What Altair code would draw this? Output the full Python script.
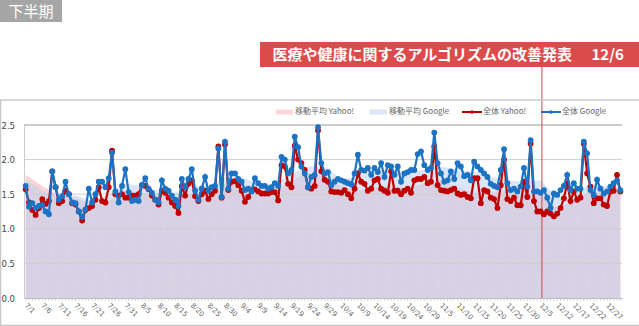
import altair as alt
import pandas as pd

# ---- categories (dates present in the data; a few days are missing) ----
jul = [f"7/{d}" for d in range(1, 32)]
aug = [f"8/{d}" for d in range(1, 32)]
sep = [f"9/{d}" for d in range(1, 31)]
octo = [f"10/{d}" for d in range(1, 32)]
nov = [f"11/{d}" for d in [1, 2] + list(range(5, 31))]
dec = [f"12/{d}" for d in [1, 2, 3, 4, 5, 6, 7, 10, 11] + list(range(12, 32))]
dates = jul + aug + sep + octo + nov + dec

tick_labels = ["7/1", "7/6", "7/11", "7/16", "7/21", "7/26", "7/31", "8/5", "8/10",
               "8/15", "8/20", "8/25", "8/30", "9/4", "9/9", "9/14", "9/19", "9/24",
               "9/29", "10/4", "10/9", "10/14", "10/19", "10/24", "10/29", "11/5",
               "11/10", "11/15", "11/20", "11/25", "11/30", "12/5", "12/12", "12/17",
               "12/22", "12/27"]

y_ticks = [0, 0.5, 1, 1.5, 2, 2.5]

yahoo = [1.57, 1.38, 1.27, 1.20, 1.30, 1.43, 1.36, 1.40, 1.83, 1.60,
         1.37, 1.40, 1.55, 1.50, 1.37, 1.35, 1.25, 1.12, 1.27, 1.30,
         1.33, 1.42, 1.60, 1.40, 1.38, 1.60, 2.13, 1.50, 1.48, 1.50,
         1.45, 1.45, 1.48, 1.48, 1.50, 1.63, 1.62, 1.57, 1.48, 1.42,
         1.35, 1.55, 1.52, 1.45, 1.38, 1.33, 1.23, 1.62, 1.48, 1.65,
         1.70, 1.47, 1.40, 1.50, 1.55, 1.43, 1.50, 1.55, 2.19, 1.45,
         2.22, 1.56, 1.68, 1.69, 1.63, 1.55, 1.39, 1.46, 1.56, 1.57,
         1.54, 1.51, 1.51, 1.51, 1.53, 1.53, 1.41, 1.92, 1.90, 1.65,
         1.60, 2.20, 2.00, 1.95, 1.85, 1.60, 1.58, 1.62, 2.42, 1.83,
         1.71, 1.68, 1.54, 1.53, 1.53, 1.52, 1.56, 1.50, 1.44, 1.58,
         1.80, 1.68, 1.65, 1.55, 1.58, 1.70, 1.72, 1.58, 1.55, 1.52,
         1.83, 1.55, 1.55, 1.50, 1.55, 1.58, 1.52, 1.70, 1.72, 1.72,
         1.75, 1.66, 1.68, 2.19, 1.63, 1.56, 1.55, 1.54, 1.56, 1.58,
         1.51, 1.49, 1.50, 1.46, 1.44, 1.73, 1.73, 1.37, 1.56, 1.54,
         1.45, 1.43, 1.30, 1.63, 2.00, 1.43, 1.40, 1.45, 1.34, 1.34,
         1.68, 1.46, 2.23, 1.40, 1.25, 1.25, 1.21, 1.25, 1.22, 1.18,
         1.22, 1.30, 1.44, 1.66, 1.40, 1.54, 1.42, 1.45, 2.23, 1.80,
         1.61, 1.37, 1.44, 1.44, 1.35, 1.33, 1.54, 1.55, 1.78, 1.54]

google = [1.62, 1.32, 1.37, 1.30, 1.33, 1.34, 1.25, 1.21, 1.83, 1.60,
          1.42, 1.47, 1.68, 1.50, 1.38, 1.37, 1.25, 1.17, 1.28, 1.58,
          1.38, 1.50, 1.68, 1.68, 1.60, 1.73, 2.10, 1.54, 1.38, 1.62,
          1.86, 1.53, 1.40, 1.42, 1.40, 1.63, 1.73, 1.58, 1.52, 1.42,
          1.38, 1.70, 1.58, 1.55, 1.48, 1.42, 1.33, 1.72, 1.60, 1.72,
          1.86, 1.55, 1.42, 1.58, 1.75, 1.55, 1.60, 1.62, 2.16, 1.46,
          2.26, 1.58, 1.80, 1.80, 1.72, 1.68, 1.56, 1.58, 1.54, 1.73,
          1.66, 1.62, 1.62, 1.58, 1.60, 1.66, 1.62, 2.04, 2.00, 1.80,
          1.85, 2.33, 2.18, 1.90, 1.80, 1.60, 1.75, 1.78, 2.47, 1.95,
          1.80, 1.82, 1.63, 1.68, 1.72, 1.70, 1.68, 1.66, 1.64, 1.80,
          2.07, 1.85, 1.84, 1.88, 1.78, 1.88, 1.82, 1.95, 1.75, 1.92,
          1.90, 1.78, 1.90, 1.68, 1.80, 1.82, 1.85, 1.85, 2.08, 2.12,
          1.92, 1.85, 1.88, 2.39, 1.95, 1.80, 1.68, 1.70, 1.83, 1.72,
          1.95, 1.90, 1.76, 1.78, 1.70, 1.97, 1.90, 1.85, 1.80, 1.75,
          1.65, 1.62, 1.60, 1.85, 2.15, 1.66, 1.56, 1.58, 1.54, 1.61,
          1.88, 1.61, 2.28, 1.54, 1.54, 1.52, 1.56, 1.45, 1.30, 1.51,
          1.49, 1.56, 1.62, 1.78, 1.56, 1.66, 1.58, 1.58, 2.26, 2.09,
          1.56, 1.49, 1.71, 1.58, 1.51, 1.54, 1.61, 1.66, 1.70, 1.56]

# moving averages, read at the labelled dates and at the last date
ma_dates = tick_labels + ["12/31"]
ma_yahoo = [1.78, 1.62, 1.48, 1.45, 1.35, 1.40, 1.55, 1.52, 1.50, 1.45,
            1.50, 1.52, 1.65, 1.65, 1.52, 1.52, 1.70, 1.80, 1.75, 1.62,
            1.55, 1.60, 1.62, 1.60, 1.65, 1.70, 1.60, 1.52, 1.52, 1.55,
            1.50, 1.50, 1.30, 1.40, 1.55, 1.50, 1.52]
ma_google = [1.72, 1.55, 1.45, 1.48, 1.40, 1.50, 1.65, 1.62, 1.55, 1.52,
             1.62, 1.62, 1.75, 1.75, 1.65, 1.65, 1.80, 1.90, 1.90, 1.72,
             1.75, 1.85, 1.85, 1.82, 1.85, 1.90, 1.85, 1.82, 1.75, 1.70,
             1.68, 1.70, 1.45, 1.50, 1.65, 1.62, 1.62]

RED = "#c00000"
BLUE = "#1c73c4"
FONT = "Noto Sans CJK JP"

df = pd.DataFrame({"date": dates, "idx": range(len(dates)), "yahoo": yahoo, "google": google})
dma = pd.DataFrame({"date": ma_dates, "idx": [dates.index(d) for d in ma_dates],
                    "ma_yahoo": ma_yahoo, "ma_google": ma_google})

xscale = alt.Scale(domain=dates, padding=0)
yscale = alt.Scale(domain=[0, 2.5], nice=False, zero=True)

xaxis = alt.Axis(values=tick_labels, labelAngle=45, labelAlign="left",
                 labelBaseline="middle", labelFontSize=7, labelColor="#666666",
                 labelFont="DejaVu Sans", labelPadding=6, ticks=False,
                 domainColor="#bdbdbd", title=None, grid=False,
                 labelOverlap=False)
yaxis = alt.Axis(values=y_ticks, format=".1f", title=None,
                 ticks=False, labelAlign="left", labelPadding=23,
                 labelFontSize=8.5, labelColor="#444444", labelFont="DejaVu Sans",
                 labelOverlap=False, grid=False, domainColor="#cccccc")


def X(field="date:O"):
    return alt.X(field, scale=xscale, sort=dates, axis=xaxis)


def Y(field):
    return alt.Y(field, scale=yscale, axis=yaxis)


base = alt.Chart(df)

area_y = alt.Chart(dma).mark_area(color="#f9d3d6", opacity=1).encode(
    x=X(), y=Y("ma_yahoo:Q"), order=alt.Order("idx:Q"))

area_g = alt.Chart(dma).mark_area(color="#bccfee", opacity=0.55).encode(
    x=X(), y=Y("ma_google:Q"), order=alt.Order("idx:Q"))

grid_rules = alt.Chart(pd.DataFrame({"v": y_ticks[1:5]})).mark_rule(color="#cfcfcf", strokeWidth=1).encode(
    y=Y("v:Q"))

top_grid = alt.Chart(pd.DataFrame({"v": [2.5]})).mark_rule(color="#bdbdbd", strokeWidth=1.5).encode(
    y=Y("v:Q"))

xticks = base.mark_rule(color="#bbbbbb", strokeWidth=0.6).encode(
    x=X(), y=alt.value(173), y2=alt.value(176))

line_y = base.mark_line(color=RED, strokeWidth=2.2).encode(
    x=X(), y=Y("yahoo:Q"), order=alt.Order("idx:Q"))
pts_y = base.mark_circle(color=RED, size=34, opacity=1).encode(
    x=X(), y=Y("yahoo:Q"))
line_g = base.mark_line(color=BLUE, strokeWidth=2.2).encode(
    x=X(), y=Y("google:Q"), order=alt.Order("idx:Q"))
pts_g = base.mark_circle(color=BLUE, size=34, opacity=1).encode(
    x=X(), y=Y("google:Q"))

# announcement rule at 12/6
ann = alt.Chart(pd.DataFrame({"date": ["12/6"]})).mark_rule(color="#c24a4a", strokeWidth=1, xOffset=-2).encode(
    x=X(), y=alt.value(-58), y2=alt.value(173))

one = alt.Chart(pd.DataFrame({"a": [0]}))

# frame of the chart box
frame = alt.layer(
    one.mark_rule(color="#c8c8c8", strokeWidth=1.5).encode(x=alt.value(-24), x2=alt.value(620), y=alt.value(-25)),
    one.mark_rule(color="#c8c8c8", strokeWidth=1.5).encode(x=alt.value(-23.5), y=alt.value(-25), y2=alt.value(201)),
    one.mark_rule(color="#c8c8c8", strokeWidth=1.5).encode(x=alt.value(-24), x2=alt.value(620), y=alt.value(200.5)),
)

# top-left tag
tag = alt.layer(
    one.mark_rect(color="#a6a6a6").encode(x=alt.value(-24), x2=alt.value(38), y=alt.value(-125), y2=alt.value(-103)),
    one.mark_text(text="下半期", font=FONT, fontSize=15, color="white", align="left",
                  baseline="middle").encode(x=alt.value(-15.5), y=alt.value(-113.5)),
)

# banner
banner = alt.layer(
    one.mark_rect(color="#dc4b4b").encode(x=alt.value(236), x2=alt.value(616), y=alt.value(-83), y2=alt.value(-58)),
    one.mark_text(text="医療や健康に関するアルゴリズムの改善発表", font=FONT, fontSize=15,
                  fontWeight="bold", color="white", align="left", baseline="middle").encode(
        x=alt.value(248.5), y=alt.value(-70)),
    one.mark_text(text="12/6", font=FONT, fontSize=15, fontWeight="bold", color="white",
                  align="left", baseline="middle").encode(x=alt.value(567.5), y=alt.value(-70)),
)

# legend
LY = -13
legend = alt.layer(
    one.mark_rect(color="#fcd6d8").encode(x=alt.value(252), x2=alt.value(269), y=alt.value(LY - 2.5), y2=alt.value(LY + 2.5)),
    one.mark_text(text="移動平均 Yahoo!", font=FONT, fontSize=8, color="#666666", align="left",
                  baseline="middle").encode(x=alt.value(271), y=alt.value(LY)),
    one.mark_rect(color="#dce7f6").encode(x=alt.value(346), x2=alt.value(363), y=alt.value(LY - 2.5), y2=alt.value(LY + 2.5)),
    one.mark_text(text="移動平均 Google", font=FONT, fontSize=8, color="#666666", align="left",
                  baseline="middle").encode(x=alt.value(365), y=alt.value(LY)),
    one.mark_rule(color=RED, strokeWidth=2).encode(x=alt.value(438), x2=alt.value(458), y=alt.value(LY)),
    one.mark_circle(color=RED, size=14, opacity=1).encode(x=alt.value(448), y=alt.value(LY)),
    one.mark_text(text="全体 Yahoo!", font=FONT, fontSize=8, color="#666666", align="left",
                  baseline="middle").encode(x=alt.value(459), y=alt.value(LY)),
    one.mark_rule(color=BLUE, strokeWidth=2).encode(x=alt.value(517), x2=alt.value(537), y=alt.value(LY)),
    one.mark_circle(color=BLUE, size=14, opacity=1).encode(x=alt.value(527), y=alt.value(LY)),
    one.mark_text(text="全体 Google", font=FONT, fontSize=8, color="#666666", align="left",
                  baseline="middle").encode(x=alt.value(538), y=alt.value(LY)),
)

chart = alt.layer(
    area_y, area_g, grid_rules, top_grid, xticks, ann, line_y, pts_y, line_g, pts_g,
    frame, tag, banner, legend
).properties(
    width=598, height=173,
    padding={"left": 24, "top": 125, "right": 17, "bottom": 28},
    autosize=alt.AutoSizeParams(type="none"),
    background="white",
).configure_view(strokeWidth=0)

chart.save("out.html", embed_options={"renderer": "svg", "actions": False})
